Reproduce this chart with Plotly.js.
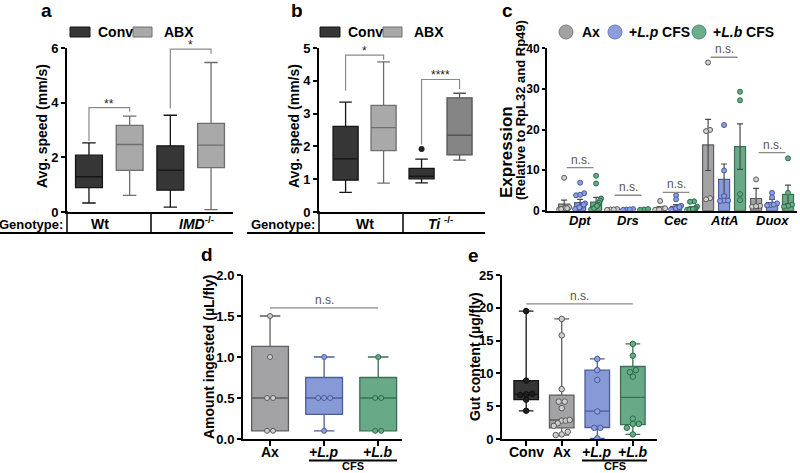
<!DOCTYPE html>
<html><head><meta charset="utf-8">
<script src="https://cdn.plot.ly/plotly-3.0.1.min.js"></script>
<style>html,body{margin:0;padding:0;background:#fff}#chart{width:800px;height:473px}</style>
</head><body><div id="chart"></div>
<script>
// ---------------- Panel a: Avg. speed (mm/s) by genotype ----------------
const aGenotypes = ['Wt', 'IMD-/-'];
const aConvLow  = [0.33, 0.18];
const aConvQ1   = [0.89, 0.80];
const aConvMed  = [1.29, 1.53];
const aConvQ3   = [2.08, 2.42];
const aConvHigh = [2.53, 3.54];
const aAbxLow   = [0.61, 0.09];
const aAbxQ1    = [1.52, 1.62];
const aAbxMed   = [2.47, 2.45];
const aAbxQ3    = [3.17, 3.24];
const aAbxHigh  = [3.51, 5.47];
const aSigText  = ['**', '*'];
const aSigTop   = [3.82, 5.96];
const aSigLeft  = [2.60, 3.79];
const aSigRight = [3.67, 5.79];

// ---------------- Panel b ----------------
const bGenotypes = ['Wt', 'Ti-/-'];
const bConvLow  = [0.60, 0.89];
const bConvQ1   = [0.97, 1.01];
const bConvMed  = [1.62, 1.09];
const bConvQ3   = [2.61, 1.33];
const bConvHigh = [3.35, 1.61];
const bAbxLow   = [0.88, 1.58];
const bAbxQ1    = [1.87, 1.74];
const bAbxMed   = [2.57, 2.34];
const bAbxQ3    = [3.25, 3.48];
const bAbxHigh  = [4.58, 3.62];
const bConvOutlier = [null, 1.92];
const bSigText  = ['*', '****'];
const bSigTop   = [4.78, 4.04];
const bSigLeft  = [3.70, 2.06];
const bSigRight = [4.64, 3.75];

// ---------------- Panel c: expression ----------------
const cGenes = ['Dpt', 'Drs', 'Cec', 'AttA', 'Duox'];
const cAxMean = [1.6, 0.3, 0.6, 16.2, 3.0];
const cAxSE   = [1.0, 0.1, 0.4, 6.3, 2.5];
const cLpMean = [2.0, 0.3, 1.1, 7.7, 2.0];
const cLpSE   = [0.8, 0.1, 0.4, 3.8, 0.8];
const cLbMean = [2.1, 0.3, 0.7, 15.8, 4.0];
const cLbSE   = [1.2, 0.1, 0.3, 5.6, 2.3];
const cAxPts = [
  [8.1, 0.9, 0.5, 0.3, 0.6, 0.4, 0.6],
  [0.3, 0.2, 0.4, 0.3],
  [2.4, 0.5, 0.3, 0.2, 0.4, 0.3, 0.6],
  [36.5, 19.9, 19.6, 3.1, 2.8],
  [7.7, 1.2, 1.0, 1.1]
];
const cLpPts = [
  [6.9, 4.3, 3.8, 3.9, 1.8, 1.2, 0.9, 0.6, 0.5, 0.4, 1.5, 0.8],
  [0.3, 0.2, 0.4, 0.3],
  [3.8, 2.8, 1.2, 0.8, 0.5, 0.4, 0.6, 0.3, 0.9],
  [21.1, 9.9, 3.6, 2.5, 2.4, 2.5],
  [4.4, 3.3, 1.8, 1.4, 1.3, 1.5]
];
const cLbPts = [
  [8.6, 6.7, 3.0, 2.5, 2.0, 1.5, 1.0, 0.8, 0.5, 0.4, 0.3, 0.6, 1.2],
  [0.3, 0.4, 0.2],
  [2.3, 2.2, 1.0, 0.6, 0.4, 0.3, 0.5, 0.2, 0.3, 0.4],
  [29.3, 27.2, 4.1, 2.6],
  [12.9, 4.4, 1.5, 1.2, 1.0]
];
const cNsY = [10.6, 3.8, 4.5, 37.8, 14.3];

// ---------------- Panel d: amount ingested ----------------
const dGroups = ['Ax', '+L.p', '+L.b'];
const dLow  = [0.1, 0.1, 0.1];
const dQ1   = [0.1, 0.3, 0.1];
const dMed  = [0.5, 0.5, 0.5];
const dQ3   = [1.13, 0.75, 0.75];
const dHigh = [1.5, 1.0, 1.0];
const dPts = [
  [0.1, 0.1, 0.5, 0.5, 1.0, 1.5],
  [0.1, 0.5, 0.5, 0.5, 1.0],
  [0.1, 0.1, 0.5, 0.5, 1.0]
];
const dNsY = 1.6;

// ---------------- Panel e: gut content ----------------
const eGroups = ['Conv', 'Ax', '+L.p', '+L.b'];
const eLow  = [4.3, 0.6, 0.1, 0.7];
const eQ1   = [6.0, 1.7, 1.75, 2.2];
const eMed  = [6.8, 2.9, 4.25, 6.35];
const eQ3   = [8.9, 6.7, 10.5, 11.05];
const eHigh = [19.5, 18.3, 12.2, 14.5];
const ePts = [
  [19.5, 8.9, 6.9, 6.8, 6.7, 6.0, 4.3],
  [18.3, 15.8, 7.6, 5.7, 5.7, 4.7, 2.8, 2.8, 2.9, 2.4, 2.0, 1.1, 0.7, 0.6],
  [12.2, 10.5, 9.0, 4.2, 1.7, 1.7, 0.1],
  [14.5, 12.7, 10.5, 10.2, 9.5, 3.1, 2.3, 2.3, 1.7, 0.7]
];
const eNsY = 20.6;

// ---------------- helpers ----------------
const W = 800, H = 473;
const px = x => x / W;
const py = y => 1 - y / H;
const FONT = 'Liberation Sans, Arial, sans-serif';

const C = {
  conv: {fill: '#363636', line: '#151515'},
  abx: {fill: '#a9a9a9', line: '#6e6e6e'},
  abxTi: {fill: '#858585', line: '#555555'},
  ax: {fill: '#a3a3a5', line: '#5e5e5e', pt: '#d0d0d0', ptl: '#5a5a5a'},
  lp: {fill: '#8799d6', line: '#4d5d98', pt: '#8c9fe0', ptl: '#4a5b9c'},
  lb: {fill: '#68aa88', line: '#3a6f54', pt: '#62ad86', ptl: '#2f6a4b'}
};

function box(xa, ya, xs, lo, q1, med, q3, hi, col, width, ww) {
  return {type: 'box', xaxis: xa, yaxis: ya, x: xs, q1: q1, median: med, q3: q3,
    lowerfence: lo, upperfence: hi, fillcolor: col.fill,
    line: {color: col.line, width: 1.3}, whiskerwidth: ww, width: width,
    boxpoints: false, hoverinfo: 'skip', showlegend: false};
}

// spread coincident points side by side (beeswarm-like rows)
function spreadX(vals, center, pxPerX, pxPerY, thr, step, maxW) {
  const idx = vals.map((v, i) => i).sort((a, b) => vals[a] - vals[b]);
  const xs = new Array(vals.length);
  let cl = [idx[0]];
  const flush = () => {
    const n = cl.length; let s = step;
    if (n > 1 && (n - 1) * s > maxW) s = maxW / (n - 1);
    cl.forEach((k, j) => { xs[k] = center + ((j - (n - 1) / 2) * s) / pxPerX; });
  };
  for (let t = 1; t < idx.length; t++) {
    const k = idx[t], prev = cl[cl.length - 1];
    if ((vals[k] - vals[prev]) * pxPerY < thr) cl.push(k); else { flush(); cl = [k]; }
  }
  flush();
  return xs;
}

function bracket(xa, ya, x0, x1, top, left, right) {
  return {type: 'scatter', mode: 'lines', xaxis: xa, yaxis: ya,
    x: [x0, x0, x1, x1], y: [left, top, top, right],
    line: {color: '#8a8a8a', width: 1.2}, hoverinfo: 'skip', showlegend: false};
}
function hline(xa, ya, x0, x1, y) {
  return {type: 'scatter', mode: 'lines', xaxis: xa, yaxis: ya,
    x: [x0, x1], y: [y, y], line: {color: '#8a8a8a', width: 1.3},
    hoverinfo: 'skip', showlegend: false};
}

const traces = [];
const ann = [];
const shapes = [];
const starFont = {family: FONT, size: 12, color: '#222'};
const nsFont = {family: FONT, size: 12, color: '#555'};

// ---- a ----
const aConvX = aGenotypes.map((g, i) => 2 * i);
const aAbxX = aGenotypes.map((g, i) => 2 * i + 1);
traces.push(box('x', 'y', aConvX, aConvLow, aConvQ1, aConvMed, aConvQ3, aConvHigh, C.conv, 0.66, 0.5));
traces.push(box('x', 'y', aAbxX, aAbxLow, aAbxQ1, aAbxMed, aAbxQ3, aAbxHigh, C.abx, 0.66, 0.5));
aGenotypes.forEach((g, i) => {
  traces.push(bracket('x', 'y', aConvX[i], aAbxX[i], aSigTop[i], aSigLeft[i], aSigRight[i]));
  ann.push({xref: 'x', yref: 'y', x: (aConvX[i] + aAbxX[i]) / 2, y: aSigTop[i], yanchor: 'bottom',
    yshift: -5, text: aSigText[i], showarrow: false, font: starFont});
});

// ---- b ----
const bConvX = bGenotypes.map((g, i) => 2 * i);
const bAbxX = bGenotypes.map((g, i) => 2 * i + 1);
traces.push(box('x2', 'y2', bConvX, bConvLow, bConvQ1, bConvMed, bConvQ3, bConvHigh, C.conv, 0.66, 0.5));
traces.push(box('x2', 'y2', [bAbxX[0]], [bAbxLow[0]], [bAbxQ1[0]], [bAbxMed[0]], [bAbxQ3[0]], [bAbxHigh[0]], C.abx, 0.66, 0.5));
traces.push(box('x2', 'y2', [bAbxX[1]], [bAbxLow[1]], [bAbxQ1[1]], [bAbxMed[1]], [bAbxQ3[1]], [bAbxHigh[1]], C.abxTi, 0.66, 0.5));
traces.push({type: 'scatter', mode: 'markers', xaxis: 'x2', yaxis: 'y2', x: bConvX, y: bConvOutlier,
  marker: {size: 6, color: '#222'}, hoverinfo: 'skip', showlegend: false});
bGenotypes.forEach((g, i) => {
  traces.push(bracket('x2', 'y2', bConvX[i], bAbxX[i], bSigTop[i], bSigLeft[i], bSigRight[i]));
  ann.push({xref: 'x2', yref: 'y2', x: (bConvX[i] + bAbxX[i]) / 2, y: bSigTop[i], yanchor: 'bottom',
    yshift: -5, text: bSigText[i], showarrow: false, font: starFont});
});

// ---- c ----
const cGroups = [
  {mean: cAxMean, se: cAxSE, pts: cAxPts, col: C.ax, off: -0.333},
  {mean: cLpMean, se: cLpSE, pts: cLpPts, col: C.lp, off: 0},
  {mean: cLbMean, se: cLbSE, pts: cLbPts, col: C.lb, off: 0.333}
];
cGroups.forEach(g => {
  traces.push({type: 'bar', xaxis: 'x3', yaxis: 'y3', x: cGenes.map((n, i) => i + g.off), y: g.mean,
    width: 0.23, marker: {color: g.col.fill, line: {color: g.col.line, width: 1.2}},
    error_y: {type: 'data', array: g.se, visible: true, color: '#4a4a4a', thickness: 1.2, width: 3},
    hoverinfo: 'skip', showlegend: false});
});
cGroups.forEach(g => {
  const xs = [], ys = [];
  g.pts.forEach((arr, i) => {
    const sx = spreadX(arr, i + g.off, 48, 4.06, 3, 4, 10);
    arr.forEach((v, k) => { xs.push(sx[k]); ys.push(v); });
  });
  traces.push({type: 'scatter', mode: 'markers', xaxis: 'x3', yaxis: 'y3', x: xs, y: ys,
    marker: {size: 5, color: g.col.pt, line: {color: g.col.ptl, width: 1}},
    hoverinfo: 'skip', showlegend: false});
});
cGenes.forEach((n, i) => {
  traces.push(hline('x3', 'y3', i - 0.28, i + 0.28, cNsY[i]));
  ann.push({xref: 'x3', yref: 'y3', x: i, y: cNsY[i], yanchor: 'bottom', yshift: -1, text: 'n.s.',
    showarrow: false, font: nsFont});
  ann.push({xref: 'x3', yref: 'paper', x: i, y: py(221), yanchor: 'middle', text: '<b><i>' + n + '</i></b>',
    showarrow: false, font: {family: FONT, size: 13, color: '#000'}});
});

// ---- d ----
const dCols = [C.ax, C.lp, C.lb];
dGroups.forEach((g, i) => {
  traces.push(box('x4', 'y4', [i], [dLow[i]], [dQ1[i]], [dMed[i]], [dQ3[i]], [dHigh[i]], dCols[i], 0.68, 0.56));
});
dGroups.forEach((g, i) => {
  const sx = spreadX(dPts[i], i, 54, 82, 4, 6, 20);
  traces.push({type: 'scatter', mode: 'markers', xaxis: 'x4', yaxis: 'y4', x: sx, y: dPts[i],
    marker: {size: 5, color: i === 0 ? '#cfcfcf' : dCols[i].pt, line: {color: dCols[i].ptl, width: 1}},
    hoverinfo: 'skip', showlegend: false});
  ann.push({xref: 'x4', yref: 'paper', x: i, y: py(452), yanchor: 'middle',
    text: i === 0 ? '<b>' + g + '</b>' : '<b><i>' + g + '</i></b>',
    showarrow: false, font: {family: FONT, size: 14, color: '#000'}});
});
traces.push(hline('x4', 'y4', 0, dGroups.length - 1, dNsY));
ann.push({xref: 'x4', yref: 'y4', x: (dGroups.length - 1) / 2, y: dNsY, yanchor: 'bottom', yshift: -1,
  text: 'n.s.', showarrow: false, font: nsFont});

// ---- e ----
const eCols = [C.conv, C.ax, C.lp, C.lb];
eGroups.forEach((g, i) => {
  traces.push(box('x5', 'y5', [i], [eLow[i]], [eQ1[i]], [eMed[i]], [eQ3[i]], [eHigh[i]], eCols[i], 0.69, 0.6));
});
eGroups.forEach((g, i) => {
  const sx = spreadX(ePts[i], i, 35.6, 6.56, 4, 6, 16);
  const fill = i === 0 ? '#1e1e1e' : (i === 1 ? '#cfcfcf' : eCols[i].pt);
  const ln = i === 0 ? '#111' : eCols[i].ptl;
  traces.push({type: 'scatter', mode: 'markers', xaxis: 'x5', yaxis: 'y5', x: sx, y: ePts[i],
    marker: {size: 5.5, color: fill, line: {color: ln, width: 1}},
    hoverinfo: 'skip', showlegend: false});
  ann.push({xref: 'x5', yref: 'paper', x: i, y: py(452), yanchor: 'middle',
    text: i < 2 ? '<b>' + g + '</b>' : '<b><i>' + g + '</i></b>',
    showarrow: false, font: {family: FONT, size: 14, color: '#000'}});
});
traces.push(hline('x5', 'y5', 0, eGroups.length - 1, eNsY));
ann.push({xref: 'x5', yref: 'y5', x: (eGroups.length - 1) / 2, y: eNsY, yanchor: 'bottom', yshift: -1,
  text: 'n.s.', showarrow: false, font: nsFont});

// ---------------- text & decorations (paper coords) ----------------
function txt(x, y, text, size, opts) {
  return Object.assign({xref: 'paper', yref: 'paper', x: px(x), y: py(y), text: text, showarrow: false,
    xanchor: 'center', yanchor: 'middle', font: {family: FONT, size: size, color: '#000'}}, opts || {});
}
function line(x0, y0, x1, y1, w) {
  return {type: 'line', xref: 'paper', yref: 'paper', x0: px(x0), y0: py(y0), x1: px(x1), y1: py(y1),
    line: {color: '#000', width: w || 2}};
}
function rect(x0, y0, x1, y1, fill, lc) {
  return {type: 'rect', xref: 'paper', yref: 'paper', x0: px(x0), y0: py(y0), x1: px(x1), y1: py(y1),
    fillcolor: fill, line: {color: lc, width: 1}};
}
function circ(cx, cy, r, fill, lc) {
  return {type: 'circle', xref: 'paper', yref: 'paper', x0: px(cx - r), y0: py(cy + r), x1: px(cx + r), y1: py(cy - r),
    fillcolor: fill, line: {color: lc, width: 1}};
}

// panel letters
[['a', 46, 10], ['b', 297, 10], ['c', 507, 10], ['d', 207, 254], ['e', 473, 255]].forEach(p => {
  ann.push(txt(p[1], p[2], '<b>' + p[0] + '</b>', 19));
});

// legends a, b
[[70, 96, 133, 162], [320, 346, 383, 412]].forEach(L => {
  shapes.push(rect(L[0], 27, L[0] + 20, 37, C.conv.fill, C.conv.line));
  ann.push(txt(L[1], 32, '<b>Conv</b>', 14, {xanchor: 'left'}));
  shapes.push(rect(L[2], 27, L[2] + 19, 37, C.abx.fill, C.abx.line));
  ann.push(txt(L[3], 32, '<b>ABX</b>', 14, {xanchor: 'left'}));
});

// legend c
shapes.push(circ(566, 32, 7, '#a3a3a3', '#7d7d7d'));
ann.push(txt(580, 32, '<b>Ax</b>', 14, {xanchor: 'left'}));
shapes.push(circ(615, 32, 7, '#8c9fdc', '#6a7cc0'));
ann.push(txt(627, 32, '<b>+<i>L.p</i> CFS</b>', 14, {xanchor: 'left'}));
shapes.push(circ(699, 32, 7, '#6cae8c', '#4f8c6c'));
ann.push(txt(711, 32, '<b>+<i>L.b</i> CFS</b>', 14, {xanchor: 'left'}));

// y axis titles
ann.push(txt(42, 126, '<b>Avg. speed (mm/s)</b>', 14, {textangle: -90}));
ann.push(txt(294, 126, '<b>Avg. speed (mm/s)</b>', 14, {textangle: -90}));
ann.push(txt(506, 200, '<b>Expression</b>', 17, {textangle: -90, yanchor: 'bottom'}));
ann.push(txt(521, 202, '<b>(Relative to RpL32 and Rp49)</b>', 13, {textangle: -90, yanchor: 'bottom'}));
ann.push(txt(209, 357, '<b>Amount ingested (µL/fly)</b>', 14, {textangle: -90}));
ann.push(txt(475, 357, '<b>Gut content (µg/fly)</b>', 14, {textangle: -90}));

// Genotype rows
ann.push(txt(65, 224, '<b>Genotype:</b>', 13, {xanchor: 'right'}));
ann.push(txt(100, 224, '<b>' + aGenotypes[0] + '</b>', 14));
ann.push(txt(196, 223, '<b><i>IMD</i><sup>-/-</sup></b>', 14));
shapes.push(line(67, 211, 67, 233, 1.5));
shapes.push(line(151, 212, 151, 233, 1.5));
shapes.push(line(0, 233, 233, 233, 2));

ann.push(txt(317, 224, '<b>Genotype:</b>', 13, {xanchor: 'right'}));
ann.push(txt(365, 224, '<b>' + bGenotypes[0] + '</b>', 14));
ann.push(txt(440, 223, '<b><i>Ti</i> <sup>-/-</sup></b>', 14));
shapes.push(line(319, 211, 319, 233, 1.5));
shapes.push(line(403, 212, 403, 233, 1.5));
shapes.push(line(247, 233, 485, 233, 2));

// CFS underlines
shapes.push(line(309, 460.5, 397, 460.5, 2));
ann.push(txt(353, 465.5, '<b>CFS</b>', 11));
shapes.push(line(582, 460.5, 647, 460.5, 2));
ann.push(txt(615, 465.5, '<b>CFS</b>', 11));

// ---------------- axes ----------------
const tf = {family: FONT, size: 13, color: '#000', weight: 'bold'};
function yax(dom, range, dtick, xa, extra) {
  return Object.assign({domain: dom, range: range, dtick: dtick, anchor: xa, showline: true, linecolor: '#000',
    linewidth: 2, ticks: 'outside', ticklen: 4, tickwidth: 2, tickcolor: '#000', tickfont: tf,
    showgrid: false, zeroline: false, fixedrange: true}, extra || {});
}
function xax(dom, range, ya, extra) {
  return Object.assign({domain: dom, range: range, anchor: ya, showline: true, linecolor: '#000', linewidth: 2,
    ticks: '', showticklabels: false, showgrid: false, zeroline: false, fixedrange: true}, extra || {});
}
const layout = {
  width: W, height: H, margin: {l: 0, r: 0, t: 0, b: 0}, paper_bgcolor: '#fff', plot_bgcolor: 'rgba(0,0,0,0)',
  showlegend: false, barmode: 'overlay', font: {family: FONT},
  xaxis: xax([px(67), px(233)], [-0.54, 3.54], 'y'),
  yaxis: yax([py(212), py(48)], [0, 6], 2, 'x'),
  xaxis2: xax([px(319), px(485)], [-0.70, 3.67], 'y2'),
  yaxis2: yax([py(212), py(48)], [0, 5], 1, 'x2'),
  xaxis3: xax([px(547), px(797)], [-0.69, 4.52], 'y3'),
  yaxis3: yax([py(210.7), py(48.3)], [0, 40], 10, 'x3',
    {ticklen: 3, tickfont: {family: FONT, size: 12, color: '#000', weight: 'bold'}}),
  xaxis4: xax([px(243), px(402)], [-0.5, 2.44], 'y4', {tickvals: dGroups.map((g, i) => i),
    ticks: 'outside', ticklen: 5, tickwidth: 2, tickcolor: '#000'}),
  yaxis4: yax([py(439), py(275)], [0, 2], 0.5, 'x4', {tickformat: '.1f'}),
  xaxis5: xax([px(502), px(657)], [-0.68, 3.68], 'y5', {tickvals: eGroups.map((g, i) => i),
    ticks: 'outside', ticklen: 5, tickwidth: 2, tickcolor: '#000'}),
  yaxis5: yax([py(439), py(275)], [0, 25], 5, 'x5'),
  annotations: ann, shapes: shapes
};
Plotly.newPlot('chart', traces, layout, {staticPlot: true, displayModeBar: false});
</script></body></html>
